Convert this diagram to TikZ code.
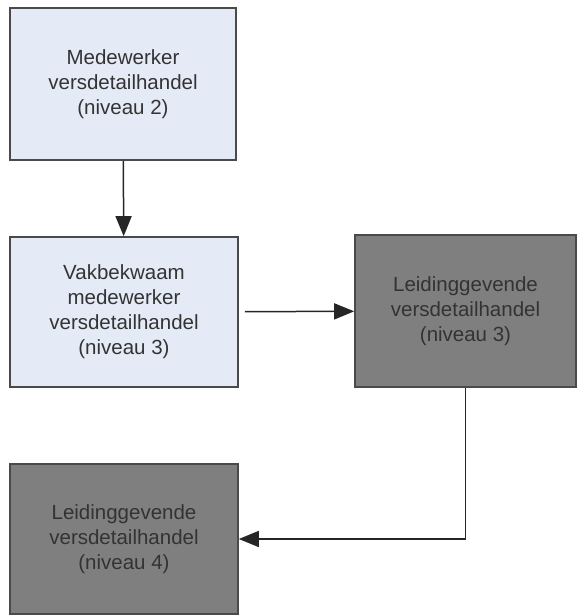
\documentclass[tikz,border=0pt]{standalone}
\usepackage{fontspec}
\setmainfont{Liberation Sans}
\usepackage{xcolor}
\usetikzlibrary{arrows.meta}
\definecolor{boxblue}{HTML}{E4EBF6}
\definecolor{boxgray}{HTML}{7F7F7F}
\definecolor{boxline}{HTML}{4A4A4A}
\definecolor{boxtext}{HTML}{333333}

\begin{document}
\begin{tikzpicture}[x=1pt, y=-1pt,
		functie/.style={draw=boxline, line width=1.6pt, align=center, inner sep=0pt,
			text=boxtext, font=\fontsize{20.5}{25}\selectfont},
		licht/.style={functie, fill=boxblue},
		donker/.style={functie, fill=boxgray},
		pijl/.style={-{Triangle[length=20pt, width=16pt]}, line width=1.5pt, draw=black!85}]
		\useasboundingbox (0, 0) rectangle (579, 615);
		
		\node [licht, minimum width=226pt, minimum height=152pt] (mw2) at (123, 84) {Medewerker\\versdetailhandel\\(niveau 2)};
		\node [licht, minimum width=228pt, minimum height=150pt] (vmw3) at (124, 312) {Vakbekwaam\\medewerker\\versdetailhandel\\(niveau 3)};
		\node [donker, minimum width=221pt, minimum height=152pt] (lg3) at (465.5, 311) {Leidinggevende\\versdetailhandel\\(niveau 3)};
		\node [donker, minimum width=228pt, minimum height=150pt] (lg4) at (124, 539) {Leidinggevende\\versdetailhandel\\(niveau 4)};
		
		\draw [pijl] (mw2) -- (vmw3);
		\draw [pijl, shorten <=6pt] (vmw3) -- (lg3);
		\draw [pijl] (lg3.south) |- (lg4.east);
		\end{tikzpicture}
\end{document}
